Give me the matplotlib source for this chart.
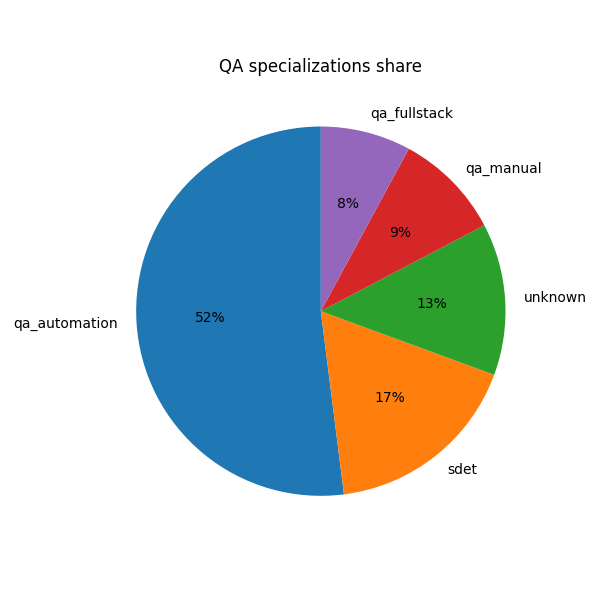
import matplotlib
matplotlib.use("Agg")
import matplotlib.pyplot as plt

labels = ["qa_automation", "sdet", "unknown", "qa_manual", "qa_fullstack"]
values = [52.0, 17.4, 13.3, 9.4, 7.9]

fig, ax = plt.subplots(figsize=(6, 6), dpi=100)
ax.pie(values, labels=labels, autopct="%1.0f%%", startangle=90)
ax.set_title("QA specializations share")
fig.tight_layout()
fig.savefig("out.png")
